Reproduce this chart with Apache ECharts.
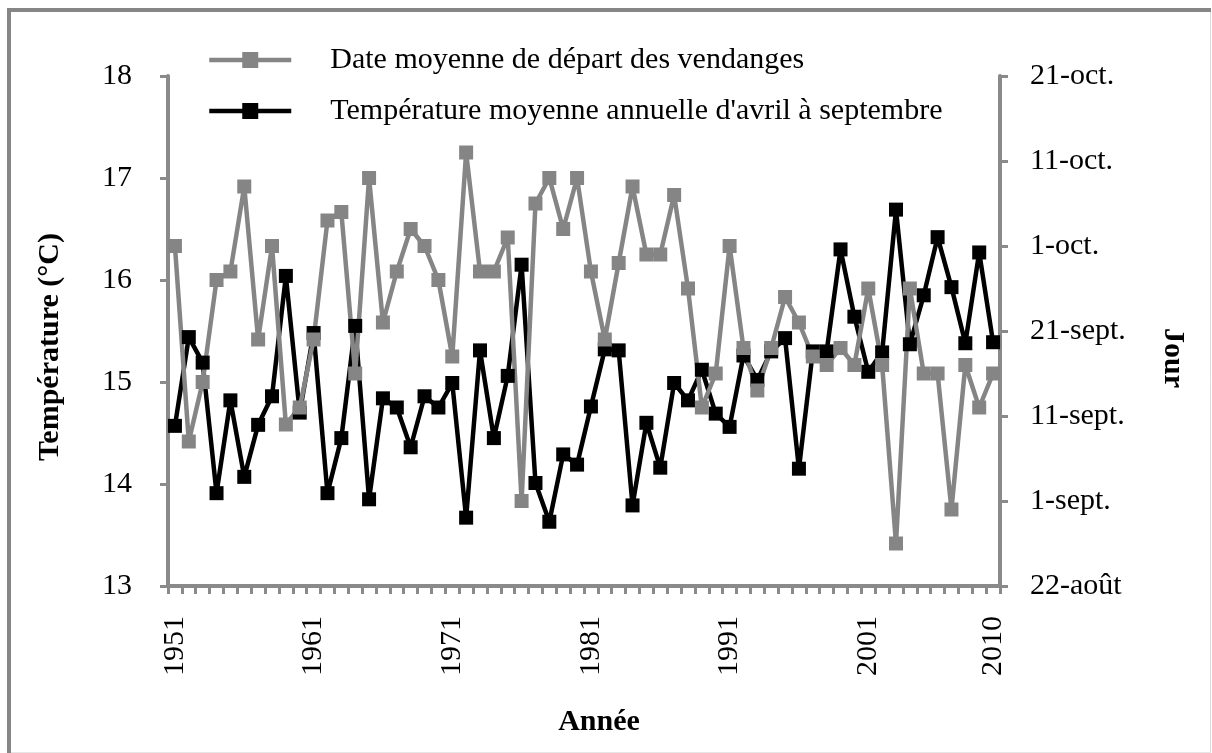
<!DOCTYPE html>
<html lang="fr">
<head>
    <meta charset="UTF-8">
    <title>Vendanges et température</title>
    <script src="https://cdn.jsdelivr.net/npm/echarts@6/dist/echarts.min.js"></script>
    <style>
        html, body { margin: 0; padding: 0; background: #fff; }
        #main { width: 1212px; height: 753px; }
    </style>
</head>
<body>
<div id="main"></div>

<script type="text/javascript">
    // années 1951-2010
    var years = [];
    for (var y = 1951; y <= 2010; y++) years.push(String(y));

    // température moyenne avril-septembre (°C)
    var temperature = [
        14.57, 15.44, 15.19, 13.91, 14.82, 14.07, 14.58, 14.86, 16.04, 14.70,
        15.48, 13.91, 14.45, 15.55, 13.85, 14.84, 14.75, 14.36, 14.86, 14.75,
        14.99, 13.67, 15.31, 14.45, 15.06, 16.15, 14.01, 13.63, 14.29, 14.19,
        14.76, 15.32, 15.31, 13.79, 14.60, 14.16, 14.99, 14.82, 15.12, 14.69,
        14.56, 15.26, 15.02, 15.30, 15.43, 14.15, 15.30, 15.30, 16.30, 15.64,
        15.10, 15.29, 16.69, 15.37, 15.85, 16.42, 15.93, 15.38, 16.27, 15.39
    ];

    // date de départ des vendanges, en jours après le 22 août
    var harvestDay = [
        40, 17, 24, 36, 37, 47, 29, 40, 19, 21,
        29, 43, 44, 25, 48, 31, 37, 42, 40, 36,
        27, 51, 37, 37, 41, 10, 45, 48, 42, 48,
        37, 29, 38, 47, 39, 39, 46, 35, 21, 25,
        40, 28, 23, 28, 34, 31, 27, 26, 28, 26,
        35, 26, 5, 35, 25, 25, 9, 26, 21, 25
    ];

    // étiquettes de l'axe de droite (tous les 10 jours)
    var dayLabels = ['22-août', '1-sept.', '11-sept.', '21-sept.', '1-oct.', '11-oct.', '21-oct.'];
    var yearLabels = ['1951', '1961', '1971', '1981', '1991', '2001', '2010'];

    var axisGray = '#8a8a8a';
    var serif = '"Liberation Serif", "DejaVu Serif", serif';

    var chart = echarts.init(document.getElementById('main'));

    chart.setOption({
        animation: false,
        textStyle: { fontFamily: serif, color: '#000' },
        graphic: [
            { type: 'line', shape: { x1: 7, y1: 10, x2: 1211, y2: 10 }, style: { stroke: '#868686', lineWidth: 4 } },
            { type: 'line', shape: { x1: 9, y1: 8, x2: 9, y2: 753 }, style: { stroke: '#868686', lineWidth: 4 } },
            { type: 'line', shape: { x1: 1210.5, y1: 12, x2: 1210.5, y2: 753 }, style: { stroke: '#dcdcdc', lineWidth: 1 } },
            { type: 'line', shape: { x1: 11, y1: 752.5, x2: 1211, y2: 752.5 }, style: { stroke: '#e6e6e6', lineWidth: 1 } }
        ],
        legend: {
            orient: 'vertical',
            left: 202,
            top: 40,
            itemWidth: 82,
            itemHeight: 20,
            itemGap: 21,
            data: ['Date moyenne de départ des vendanges', "Température moyenne annuelle d'avril à septembre"],
            lineStyle: { width: 4.5 },
            textStyle: { fontFamily: serif, fontSize: 30, color: '#000', padding: [0, 0, 0, 34] }
        },
        grid: { left: 168, right: 212, top: 76, bottom: 167 },
        xAxis: {
            type: 'category',
            data: years,
            boundaryGap: true,
            name: 'Année',
            nameLocation: 'middle',
            nameGap: 121,
            nameTextStyle: { fontFamily: serif, fontSize: 30, fontWeight: 'bold', color: '#000', padding: [0, 0, 0, 30] },
            axisLine: { lineStyle: { color: axisGray, width: 4 } },
            axisTick: { show: true, interval: 0, length: 8, lineStyle: { color: axisGray, width: 3 } },
            axisLabel: {
                rotate: 90,
                margin: 30,
                fontSize: 30,
                color: '#000',
                fontFamily: serif,
                interval: function (idx, val) { return yearLabels.indexOf(val) >= 0; }
            },
            splitLine: { show: false }
        },
        yAxis: [
            {
                type: 'value',
                min: 13,
                max: 18,
                interval: 1,
                position: 'left',
                name: 'Température (°C)',
                nameLocation: 'middle',
                nameGap: 103,
                nameTextStyle: { fontFamily: serif, fontSize: 30, fontWeight: 'bold', color: '#000', padding: [0, 32, 0, 0] },
                axisLine: { show: true, lineStyle: { color: axisGray, width: 4 } },
                axisTick: { show: true, length: 8, lineStyle: { color: axisGray, width: 3 } },
                axisLabel: { margin: 36, fontSize: 30, color: '#000', fontFamily: serif },
                splitLine: { show: false }
            },
            {
                type: 'value',
                min: 0,
                max: 60,
                interval: 10,
                position: 'right',
                name: 'Jour',
                nameLocation: 'middle',
                nameGap: 158,
                nameRotate: -90,
                nameTextStyle: { fontFamily: serif, fontSize: 30, fontWeight: 'bold', color: '#000', padding: [0, 0, 0, 54] },
                axisLine: { show: true, lineStyle: { color: axisGray, width: 4 } },
                axisTick: { show: true, length: 8, lineStyle: { color: axisGray, width: 3 } },
                axisLabel: {
                    margin: 30,
                    fontSize: 30,
                    color: '#000',
                    fontFamily: serif,
                    formatter: function (v) { return dayLabels[Math.round(v / 10)]; }
                },
                splitLine: { show: false }
            }
        ],
        series: [
            {
                name: "Température moyenne annuelle d'avril à septembre",
                type: 'line',
                yAxisIndex: 0,
                data: temperature,
                symbol: 'rect',
                symbolSize: 14,
                showAllSymbol: true,
                color: '#000',
                lineStyle: { color: '#000', width: 4.5 },
                itemStyle: { color: '#000' }
            },
            {
                name: 'Date moyenne de départ des vendanges',
                type: 'line',
                yAxisIndex: 1,
                data: harvestDay,
                symbol: 'rect',
                symbolSize: 14,
                showAllSymbol: true,
                color: '#858585',
                lineStyle: { color: '#858585', width: 4.5 },
                itemStyle: { color: '#858585' }
            }
        ]
    });
</script>
</body>
</html>
